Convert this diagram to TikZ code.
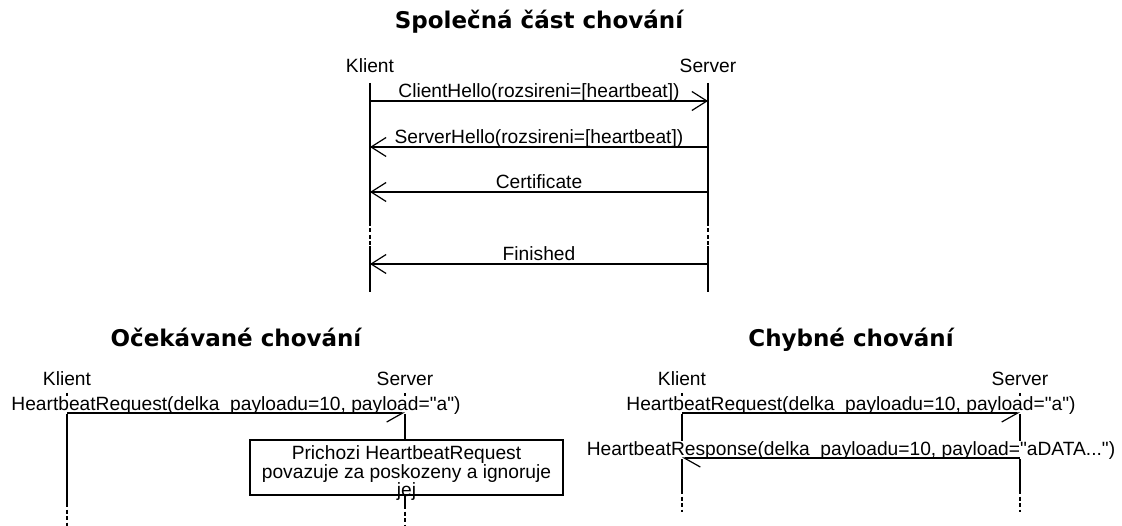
\documentclass[tikz,border=0pt]{standalone}
\usepackage{fontspec}
\newfontfamily\lab{Liberation Sans}
\newfontfamily\headfont{DejaVu Sans}
\usetikzlibrary{arrows.meta}

\begin{document}
\begin{tikzpicture}[x=1pt,y=-1pt,
  lbl/.style={font=\lab\fontsize{19.2}{17}\selectfont, inner sep=0pt, anchor=base},
  msg/.style={lbl, fill=white},
  heading/.style={font=\headfont\bfseries\fontsize{23}{23}\selectfont, inner sep=0pt, anchor=base},
  life/.style={line width=1.2pt},
  gapline/.style={line width=1.2pt, dash pattern=on 4pt off 2.5pt},
  call/.style={line width=1.2pt, -{Straight Barb[length=15pt,width=19pt]}},
  halfR/.style={line width=1.2pt, -{Straight Barb[harpoon,swap,length=16pt,width=18pt]}},
  halfL/.style={line width=1.2pt, -{Straight Barb[harpoon,length=16pt,width=18pt]}},
  notebox/.style={draw, fill=white, line width=1.2pt, minimum width=313pt, minimum height=55pt, inner sep=0pt},
  notetxt/.style={font=\lab\fontsize{19.2}{17}\selectfont, inner sep=0pt, align=center, anchor=north},
]
\useasboundingbox (0,0) rectangle (1122,526);

% ---------- shared part ----------
\node[heading] (t0) at (539,29) {Společná část chování};
\node[lbl] (kA) at (370,73) {Klient};
\node[lbl] (sA) at (708,73) {Server};

\coordinate (kA1) at (370,83);  \coordinate (kA2) at (370,222);
\coordinate (kA3) at (370,246); \coordinate (kA4) at (370,292);
\coordinate (sA1) at (708,83);  \coordinate (sA2) at (708,222);
\coordinate (sA3) at (708,246); \coordinate (sA4) at (708,292);
\draw[life] (kA1) -- (kA2) (kA3) -- (kA4);
\draw[gapline] (kA2) -- (kA3);
\draw[life] (sA1) -- (sA2) (sA3) -- (sA4);
\draw[gapline] (sA2) -- (sA3);

\coordinate (kAm1) at (370,101); \coordinate (sAm1) at (708,101);
\coordinate (kAm2) at (370,147); \coordinate (sAm2) at (708,147);
\coordinate (kAm3) at (370,192); \coordinate (sAm3) at (708,192);
\coordinate (kAm4) at (370,264); \coordinate (sAm4) at (708,264);

\node[msg] (m1) at (539,98) {ClientHello(rozsireni=[heartbeat])};
\node[msg] (m2) at (539,144) {ServerHello(rozsireni=[heartbeat])};
\node[msg] (m3) at (539,189) {Certificate};
\node[msg] (m4) at (539,261) {Finished};
\draw[call] (kAm1) -- (sAm1);
\draw[call] (sAm2) -- (kAm2);
\draw[call] (sAm3) -- (kAm3);
\draw[call] (sAm4) -- (kAm4);

% ---------- expected behaviour ----------
\node[heading] (t1) at (236,347) {Očekávané chování};
\node[lbl] (kB) at (67,386) {Klient};
\node[lbl] (sB) at (405,386) {Server};

\coordinate (kB1) at (67,393);  \coordinate (kB2) at (67,503);  \coordinate (kB3) at (67,526);
\coordinate (sB1) at (405,393); \coordinate (sB2) at (405,440);
\coordinate (sB3) at (405,495); \coordinate (sB4) at (405,505); \coordinate (sB5) at (405,526);
\draw[life] (kB1) -- (kB2);
\draw[gapline] (kB2) -- (kB3);
\draw[life] (sB1) -- (sB2) (sB3) -- (sB4);
\draw[gapline] (sB4) -- (sB5);

\coordinate (kBm1) at (67,413); \coordinate (sBm1) at (405,413);
\node[msg] (m5) at (236,410) {HeartbeatRequest(delka\_payloadu=10, payload="a")};
\draw[halfR] (kBm1) -- (sBm1);

\node[notebox] (note) at (406.5,467.5) {};
\node[notetxt] (notetext) at (406.5,445) {Prichozi HeartbeatRequest\\povazuje za poskozeny a ignoruje\\jej};

% ---------- faulty behaviour ----------
\node[heading] (t2) at (851,347) {Chybné chování};
\node[lbl] (kC) at (682,386) {Klient};
\node[lbl] (sC) at (1020,386) {Server};

\coordinate (kC1) at (682,393);  \coordinate (kC2) at (682,490);  \coordinate (kC3) at (682,512);
\coordinate (sC1) at (1020,393); \coordinate (sC2) at (1020,490); \coordinate (sC3) at (1020,512);
\draw[life] (kC1) -- (kC2);
\draw[gapline] (kC2) -- (kC3);
\draw[life] (sC1) -- (sC2);
\draw[gapline] (sC2) -- (sC3);

\coordinate (kCm1) at (682,413);  \coordinate (sCm1) at (1020,413);
\coordinate (kCm2) at (682,458);  \coordinate (sCm2) at (1020,458);
\node[msg] (m6) at (851,410) {HeartbeatRequest(delka\_payloadu=10, payload="a")};
\node[msg] (m7) at (851,455) {HeartbeatResponse(delka\_payloadu=10, payload="aDATA...")};
\draw[halfR] (kCm1) -- (sCm1);
\draw[halfL] (sCm2) -- (kCm2);
\end{tikzpicture}
\end{document}
